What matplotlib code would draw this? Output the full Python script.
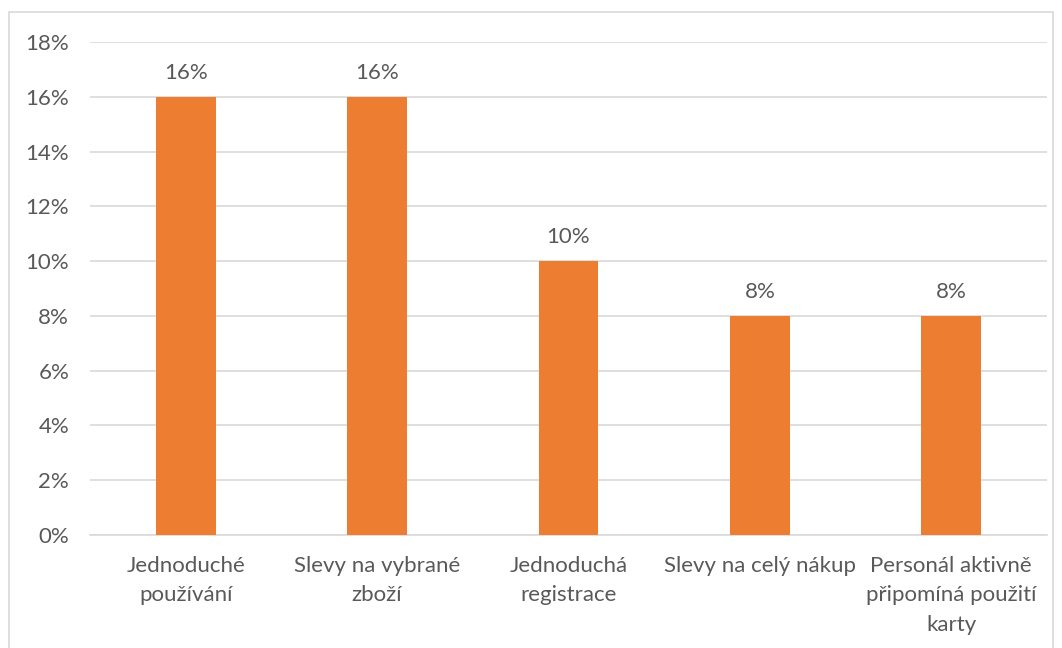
import matplotlib.pyplot as plt
from matplotlib.patches import Rectangle
from matplotlib.ticker import PercentFormatter

categories = ["Jednoduché\npoužívání", "Slevy na vybrané\nzboží", "Jednoduchá\nregistrace",
              "Slevy na celý nákup", "Personál aktivně\npřipomíná použití\nkarty"]
values = [16, 16, 10, 8, 8]
bar_labels = ["16%", "16%", "10%", "8%", "8%"]

plt.rcParams['font.family'] = ['Lato', 'DejaVu Sans']
text_color = "#595959"

fig = plt.figure(figsize=(10.62, 6.48), dpi=100)
ax = fig.add_axes([90 / 1062, 1 - 535 / 648, 957 / 1062, 493 / 648])

# outer chart border
fig.patches.append(Rectangle((8.5 / 1062, -0.1), 1044 / 1062, 1.1 - 12.5 / 648,
                             transform=fig.transFigure, fill=False,
                             edgecolor="#D9D9D9", linewidth=1.2))

x = range(len(categories))
ax.bar(x, values, width=0.313, color="#ED7D31", zorder=3)
for i, v in enumerate(values):
    ax.text(i, v + 0.5, bar_labels[i], ha="center", va="bottom", fontsize=16, color=text_color)

ax.set_xlim(-0.5, len(categories) - 0.5)
ax.set_ylim(0, 18)
ax.set_yticks(range(0, 19, 2))
ax.yaxis.set_major_formatter(PercentFormatter(decimals=0))
ax.grid(axis="y", color="#D9D9D9", linewidth=1.2, zorder=0)
ax.set_xticks(list(x))
ax.set_xticklabels(categories, fontsize=16, color=text_color, linespacing=1.6,
                   multialignment="center")
ax.tick_params(axis="y", labelsize=16, labelcolor=text_color, length=0, pad=15)
ax.tick_params(axis="x", length=0, pad=15)
for s in ax.spines.values():
    s.set_visible(False)
ax.spines["bottom"].set_visible(True)
ax.spines["bottom"].set_color("#D9D9D9")
ax.spines["bottom"].set_linewidth(1.2)

fig.savefig("out.png", dpi=100)
